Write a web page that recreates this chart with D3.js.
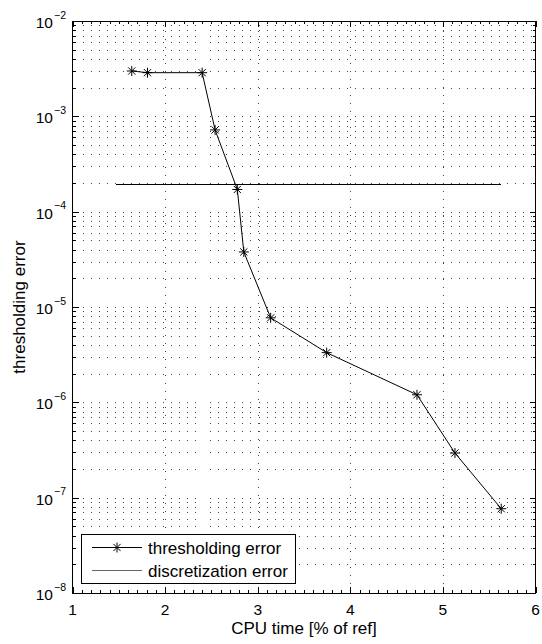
<!DOCTYPE html>
<html>
<head>
<meta charset="utf-8">
<script src="https://cdn.jsdelivr.net/npm/d3@7"></script>
<style>
  html, body { margin: 0; padding: 0; background: #fff; }
  svg { display: block; font-family: "Liberation Sans", Arial, Helvetica, sans-serif; }
</style>
</head>
<body>
<svg id="chart" width="542" height="644"></svg>
<script>
// CPU time (% of reference) and the thresholding error reached
const cpuTime = [1.64, 1.81, 2.40, 2.54, 2.78, 2.85, 3.14, 3.745, 4.72, 5.13, 5.63];
const threshError = [2.99e-3, 2.87e-3, 2.87e-3, 7.2e-4, 1.71e-4, 3.78e-5, 7.7e-6, 3.32e-6, 1.20e-6, 2.94e-7, 7.66e-8];

// Discretization error level (constant) over the CPU-time span
const discTime = [1.473, 5.63];
const discError = [1.905e-4, 1.905e-4];

const xTicks = [1, 2, 3, 4, 5, 6];
const yExponents = [-8, -7, -6, -5, -4, -3, -2];
const legendLabels = ["thresholding error", "discretization error"];
const xLabel = "CPU time [% of ref]";
const yLabel = "thresholding error";

const svg = d3.select("#chart");
const pLeft = 72.5, pRight = 535.5, pTop = 21, pBottom = 593;

const x = d3.scaleLinear().domain([1, 6]).range([pLeft, pRight]);
const y = d3.scaleLog().domain([1e-8, 1e-2]).range([pBottom, pTop]);

// dotted grid: every decade subdivision on y, integer values on x
const grid = svg.append("g").attr("stroke", "#444").attr("stroke-width", 1)
  .attr("stroke-dasharray", "1,7").attr("shape-rendering", "crispEdges");
yExponents.forEach(e => {
  if (e >= -2) return;
  for (let m = 1; m <= 9; m++) {
    if (e === -8 && m === 1) continue;
    const py = Math.round(y(m * Math.pow(10, e))) + 0.5;
    grid.append("line").attr("x1", pLeft + 2).attr("x2", pRight).attr("y1", py).attr("y2", py);
  }
});
xTicks.slice(1, -1).forEach(v => {
  const px = Math.round(x(v)) + 0.5;
  grid.append("line").attr("y1", pTop + 2).attr("y2", pBottom).attr("x1", px).attr("x2", px);
});

// axes box
const axes = svg.append("g").attr("stroke", "#000").attr("fill", "none").attr("stroke-width", 1)
  .attr("shape-rendering", "crispEdges");
axes.append("rect").attr("x", pLeft).attr("y", pTop).attr("width", pRight - pLeft).attr("height", pBottom - pTop);

// x ticks (major + minor), bottom and top
for (let i = 10; i <= 60; i++) {
  const px = Math.round(x(i / 10)) + 0.5;
  const len = (i % 10 === 0) ? 6 : 3;
  axes.append("line").attr("x1", px).attr("x2", px).attr("y1", pBottom).attr("y2", pBottom - len);
  axes.append("line").attr("x1", px).attr("x2", px).attr("y1", pTop).attr("y2", pTop + len);
}
// y ticks (major + minor), left and right
yExponents.forEach(e => {
  for (let m = 1; m <= 9; m++) {
    const v = m * Math.pow(10, e);
    if (v > 1.0001e-2) continue;
    const py = Math.round(y(v)) + 0.5;
    const len = (m === 1) ? 6 : 3;
    axes.append("line").attr("x1", pLeft).attr("x2", pLeft + len).attr("y1", py).attr("y2", py);
    axes.append("line").attr("x1", pRight).attr("x2", pRight - len).attr("y1", py).attr("y2", py);
  }
});

// x tick labels
svg.append("g").selectAll("text").data(xTicks).join("text")
  .attr("x", d => x(d)).attr("y", pBottom + 21.5)
  .attr("text-anchor", "middle").attr("font-size", 15.5).text(d => d);

// y tick labels: 10 with superscript exponent
const yl = svg.append("g").selectAll("g").data(yExponents).join("g")
  .attr("transform", d => `translate(0,${y(Math.pow(10, d))})`);
yl.append("text").attr("x", 53).attr("y", 7).attr("text-anchor", "end")
  .attr("font-size", 15.5).text("10");
yl.append("text").attr("x", 54).attr("y", -2.5).attr("font-size", 10.5)
  .text(d => "\u2212" + Math.abs(d));

// axis titles
svg.append("text").attr("x", (pLeft + pRight) / 2).attr("y", 634)
  .attr("text-anchor", "middle").attr("font-size", 17).text(xLabel);
svg.append("text").attr("transform", `translate(25,${(pTop + pBottom) / 2}) rotate(-90)`)
  .attr("text-anchor", "middle").attr("font-size", 17).text(yLabel);

// asterisk marker
function star(g, cx, cy, r) {
  const s = g.append("g").attr("stroke", "#000").attr("stroke-width", 1);
  const d = r * 0.72;
  s.append("line").attr("x1", cx - r).attr("x2", cx + r).attr("y1", cy).attr("y2", cy);
  s.append("line").attr("x1", cx).attr("x2", cx).attr("y1", cy - r).attr("y2", cy + r);
  s.append("line").attr("x1", cx - d).attr("x2", cx + d).attr("y1", cy - d).attr("y2", cy + d);
  s.append("line").attr("x1", cx - d).attr("x2", cx + d).attr("y1", cy + d).attr("y2", cy - d);
}

const line = d3.line().x(d => x(d[0])).y(d => y(d[1]));

// discretization error line
svg.append("path").datum(d3.zip(discTime, discError)).attr("d", line)
  .attr("fill", "none").attr("stroke", "#000").attr("stroke-width", 1)
  .attr("shape-rendering", "crispEdges");

// thresholding error series
const pts = d3.zip(cpuTime, threshError);
svg.append("path").datum(pts).attr("d", line)
  .attr("fill", "none").attr("stroke", "#000").attr("stroke-width", 1);
const marks = svg.append("g");
pts.forEach(p => star(marks, x(p[0]), y(p[1]), 5));

// legend
const lg = svg.append("g");
lg.append("rect").attr("x", 81.5).attr("y", 534.5).attr("width", 214).attr("height", 49)
  .attr("fill", "#fff").attr("stroke", "#000").attr("stroke-width", 1)
  .attr("shape-rendering", "crispEdges");
const rows = [547.5, 570.5];
lg.append("line").attr("x1", 92).attr("x2", 142).attr("y1", rows[0]).attr("y2", rows[0])
  .attr("stroke", "#000").attr("stroke-width", 1);
star(lg, 117, rows[0], 5);
lg.append("line").attr("x1", 92).attr("x2", 142).attr("y1", rows[1]).attr("y2", rows[1])
  .attr("stroke", "#666").attr("stroke-width", 1.2);
lg.selectAll("text.lab").data(legendLabels).join("text").attr("class", "lab")
  .attr("x", 148).attr("y", (d, i) => rows[i] + 6.5).attr("font-size", 17).text(d => d);
</script>
</body>
</html>
